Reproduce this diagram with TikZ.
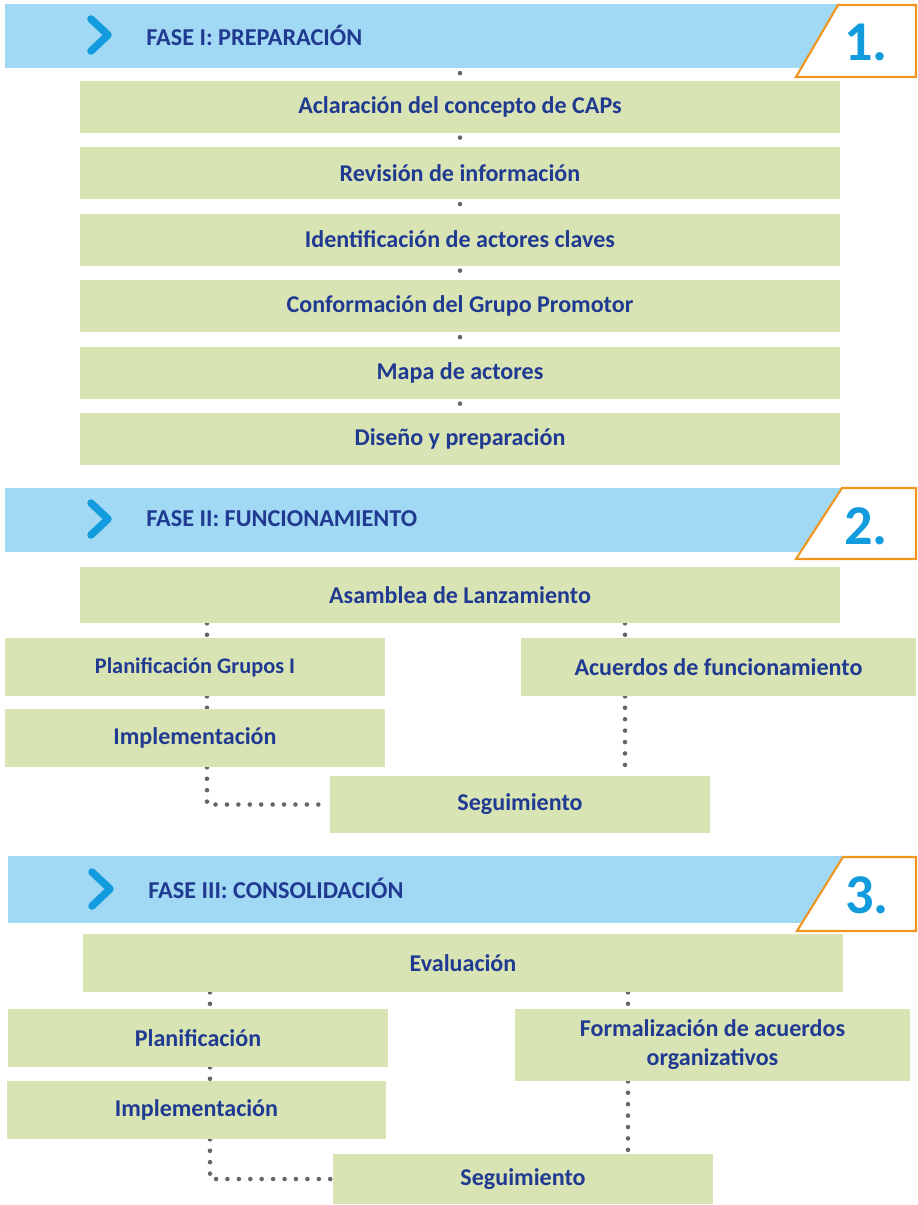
\documentclass[tikz,border=0pt]{standalone}
\usepackage{fontspec}
\setmainfont{Carlito}
\usetikzlibrary{backgrounds}
\definecolor{bannerblue}{RGB}{161,216,243}
\definecolor{chevblue}{RGB}{18,156,222}
\definecolor{boxgreen}{RGB}{217,228,180}
\definecolor{textblue}{RGB}{32,58,145}
\definecolor{numorange}{RGB}{240,149,30}
\definecolor{dotgrey}{RGB}{102,102,102}
\tikzset{
  banner/.style={rectangle, fill=bannerblue, minimum width=17.5cm, inner sep=0pt},
  phasetitle/.style={anchor=west, inner sep=0pt, text=textblue, font=\bfseries\fontsize{13.8}{16}\selectfont},
  stepbox/.style={rectangle, fill=boxgreen, text=textblue, inner sep=0pt, align=center,
    font=\bfseries\fontsize{13.7}{16.5}\selectfont},
  numbox/.style={draw=numorange, line width=1.2pt, fill=white},
  numtext/.style={text=chevblue, font=\bfseries\fontsize{32}{32}\selectfont},
  chevron/.style={draw=chevblue, line width=0.15cm, line cap=round, line join=round},
  link/.style={draw=dotgrey, line width=2.6pt, line cap=round, dash pattern=on 0pt off 6.5pt},
  shortlink/.style={link, dash phase=3.8pt}
}
\begin{document}
\begin{tikzpicture}[x=0.02cm, y=-0.02cm]
\useasboundingbox (0,0) rectangle (918,1205);

% fase I
\node[banner, minimum height=1.28cm] (f1) at (442.5,36) {};
\draw[numbox] (838,5) -- (916,5) -- (916,77) -- (796,77) -- cycle;
\node[numtext] (n1) at (866,42) {1.};
\draw[chevron] (91,19) -- (108,35) -- (91,51);
\node[phasetitle] (t1) at (146,35) {FASE I: PREPARACIÓN};

\begin{scope}[every node/.style={stepbox, minimum width=15.2cm, minimum height=1.04cm}]
  \node (a1) at (460,106.5) {Aclaración del concepto de CAPs};
  \node (a2) at (460,173) {Revisión de información};
  \node (a3) at (460,239.5) {Identificación de actores claves};
  \node (a4) at (460,306) {Conformación del Grupo Promotor};
  \node (a5) at (460,372.5) {Mapa de actores};
  \node (a6) at (460,438.5) {Diseño y preparación};
\end{scope}

\begin{scope}[on background layer]
  \draw[shortlink] (a1.north |- f1.south) -- (a1.north);
  \draw[shortlink] (a1) -- (a2);
  \draw[shortlink] (a2) -- (a3);
  \draw[shortlink] (a3) -- (a4);
  \draw[shortlink] (a4) -- (a5);
  \draw[shortlink] (a5) -- (a6);
\end{scope}

% fase II
\node[banner, minimum height=1.28cm] (f2) at (442.5,520) {};
\draw[numbox] (842,488) -- (916,488) -- (916,559) -- (796,559) -- cycle;
\node[numtext] (n2) at (866,526) {2.};
\draw[chevron] (91,503) -- (108,519) -- (91,535);
\node[phasetitle] (t2) at (146,519) {FASE II: FUNCIONAMIENTO};

\begin{scope}[every node/.style={stepbox, minimum width=7.6cm, minimum height=1.16cm}]
  \node[minimum width=15.2cm, minimum height=1.12cm] (b0) at (460,595) {Asamblea de Lanzamiento};
  \node[font=\bfseries\fontsize{12.7}{15}\selectfont] (b1) at (195,667) {Planificación Grupos I};
  \node[minimum width=7.9cm] (b3) at (718.5,667) {Acuerdos de funcionamiento};
  \node (b2) at (195,738) {Implementación};
  \node[minimum height=1.14cm] (b4) at (520,804.5) {Seguimiento};
\end{scope}
\coordinate (l2) at (207,0);
\coordinate (r2) at (625,0);

\begin{scope}[on background layer]
  \draw[link] (l2 |- b0.south) -- (l2 |- b1.north);
  \draw[link] (l2 |- b1.south) -- (l2 |- b2.north);
  \draw[link] (l2 |- b2.south) |- (b4.west);
  \draw[link] (r2 |- b0.south) -- (r2 |- b3.north);
  \draw[link] (r2 |- b3.south) -- (r2 |- b4.north);
\end{scope}

% fase III
\node[banner, minimum height=1.34cm, minimum width=17.44cm] (f3) at (444,889.5) {};
\draw[numbox] (843,857) -- (916,857) -- (916,931) -- (797,931) -- cycle;
\node[numtext] (n3) at (867,895) {3.};
\draw[chevron] (92,872) -- (110,889) -- (92,906);
\node[phasetitle] (t3) at (148,888) {FASE III: CONSOLIDACIÓN};

\begin{scope}[every node/.style={stepbox, minimum width=7.6cm, minimum height=1.16cm}]
  \node[minimum width=15.2cm] (c0) at (463,963) {Evaluación};
  \node (c1) at (198,1038) {Planificación};
  \node[minimum width=7.9cm, minimum height=1.44cm] (c3) at (712.5,1045) {Formalización de acuerdos\\organizativos};
  \node (c2) at (196.5,1110) {Implementación};
  \node[minimum height=1cm] (c4) at (523,1179) {Seguimiento};
\end{scope}
\coordinate (l3) at (210,0);
\coordinate (r3) at (628,0);

\begin{scope}[on background layer]
  \draw[link] (l3 |- c0.south) -- (l3 |- c1.north);
  \draw[link] (l3 |- c1.south) -- (l3 |- c2.north);
  \draw[link] (l3 |- c2.south) |- (c4.west);
  \draw[link] (r3 |- c0.south) -- (r3 |- c3.north);
  \draw[link] (r3 |- c3.south) -- (r3 |- c4.north);
\end{scope}
\end{tikzpicture}
\end{document}
